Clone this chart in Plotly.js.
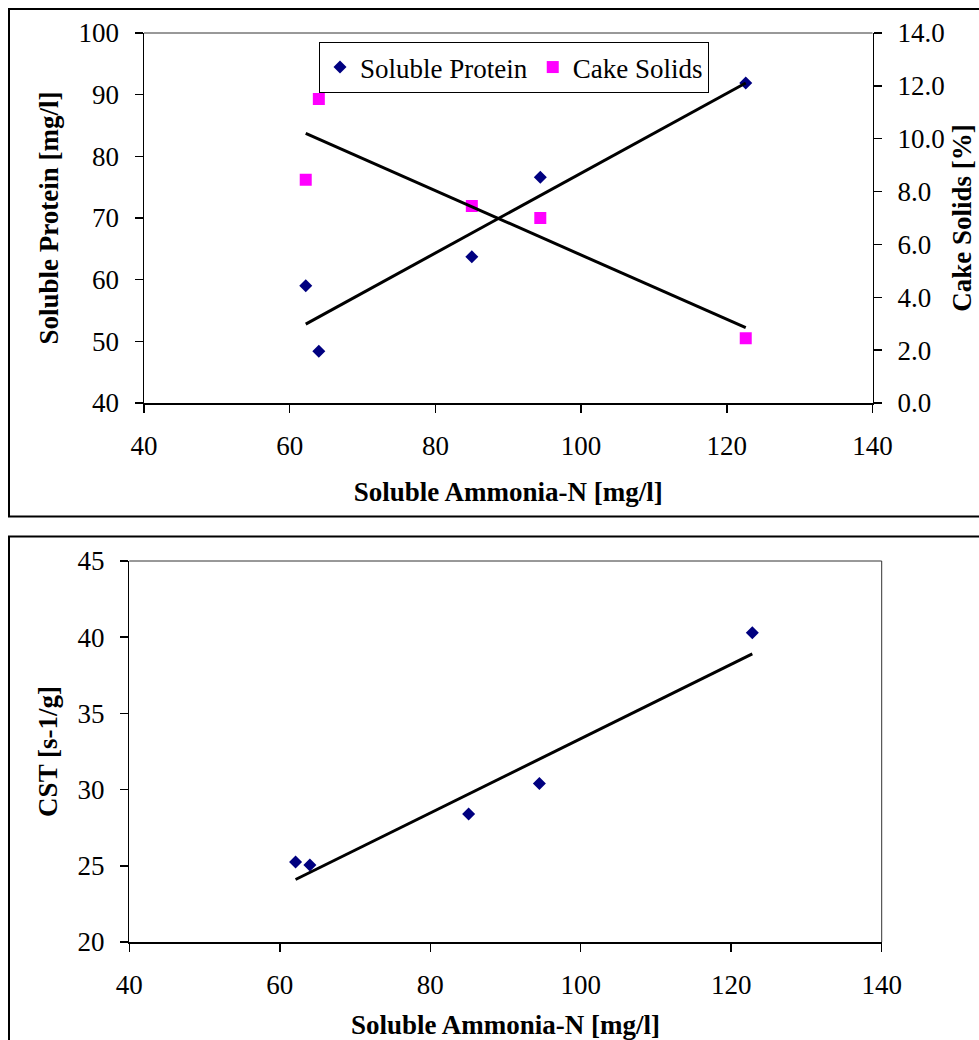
<!DOCTYPE html>
<html>
<head>
<meta charset="utf-8">
<script src="https://cdn.plot.ly/plotly-3.0.1.min.js"></script>
<style>
  html, body { margin: 0; padding: 0; background: #fff; }
  #chart { width: 979px; height: 1040px; }
</style>
</head>
<body>
<div id="chart"></div>
<script>
// ---- data ----
const ammoniaN       = [62.2, 64.0, 85.0, 94.4, 122.6];   // Soluble Ammonia-N [mg/l]
const solubleProtein = [59.0, 48.4, 63.7, 76.6, 91.9];    // Soluble Protein [mg/l]
const cakeSolids     = [8.45, 11.5, 7.45, 7.0, 2.45];     // Cake Solids [%]
const proteinTrendX  = [62.2, 122.6];
const proteinTrendY  = [52.8, 91.9];
const cakeTrendX     = [62.2, 122.6];
const cakeTrendY     = [10.2, 2.85];

const ammoniaN2      = [62.1, 64.0, 85.1, 94.5, 122.8];
const cst            = [25.25, 25.05, 28.4, 30.4, 40.3];  // CST [s-1/g]
const cstTrendX      = [62.1, 122.8];
const cstTrendY      = [24.1, 38.9];

const xTicks      = [40, 60, 80, 100, 120, 140];
const proteinTicks= [40, 50, 60, 70, 80, 90, 100];
const cakeTicks   = [0, 2, 4, 6, 8, 10, 12, 14];
const cstTicks    = [20, 25, 30, 35, 40, 45];

// ---- geometry helpers (pixels -> paper fractions) ----
const W = 979, H = 1040;
const px = v => v / W;
const py = v => 1 - v / H;

const FONT = 'Liberation Serif';
const tickFont = {family: FONT, size: 27, color: '#000'};
const titleFont = {family: FONT, size: 27, color: '#000', weight: 'bold'};
const NAVY = '#000080', MAGENTA = '#FF00FF';

const traces = [
  {x: ammoniaN, y: solubleProtein, type: 'scatter', mode: 'markers', name: 'Soluble Protein',
   xaxis: 'x', yaxis: 'y', marker: {symbol: 'diamond', size: 10, color: NAVY}},
  {x: ammoniaN, y: cakeSolids, type: 'scatter', mode: 'markers', name: 'Cake Solids',
   xaxis: 'x', yaxis: 'y2', marker: {symbol: 'square', size: 12, color: MAGENTA}},
  {x: proteinTrendX, y: proteinTrendY, type: 'scatter', mode: 'lines', showlegend: false,
   xaxis: 'x', yaxis: 'y', line: {color: '#000', width: 3}},
  {x: cakeTrendX, y: cakeTrendY, type: 'scatter', mode: 'lines', showlegend: false,
   xaxis: 'x', yaxis: 'y2', line: {color: '#000', width: 3}},
  {x: ammoniaN2, y: cst, type: 'scatter', mode: 'markers', name: 'CST', showlegend: false,
   xaxis: 'x2', yaxis: 'y5', marker: {symbol: 'diamond', size: 10, color: NAVY}},
  {x: cstTrendX, y: cstTrendY, type: 'scatter', mode: 'lines', showlegend: false,
   xaxis: 'x2', yaxis: 'y5', line: {color: '#000', width: 3}}
];

const base = {
  showgrid: false, zeroline: false, showline: true, linecolor: '#000', linewidth: 1.5,
  ticks: 'outside', ticklen: 8, tickwidth: 1.5, tickcolor: '#000',
  tickfont: tickFont, fixedrange: true, automargin: false
};
const twin = {
  showgrid: false, zeroline: false, showline: false,
  ticks: 'inside', ticklen: 8, tickwidth: 1.5, tickcolor: '#000',
  showticklabels: false, fixedrange: true, automargin: false
};

const layout = {
  width: W, height: H,
  margin: {l: 0, r: 0, t: 0, b: 0, pad: 0},
  paper_bgcolor: '#fff', plot_bgcolor: 'rgba(0,0,0,0)',
  font: {family: FONT, color: '#000'},
  showlegend: true,
  legend: {
    orientation: 'h', x: px(319), y: py(42), xanchor: 'left', yanchor: 'top',
    bordercolor: '#000', borderwidth: 1, bgcolor: '#fff',
    font: {family: FONT, size: 27, color: '#000'}, itemclick: false
  },
  // ---------- top chart ----------
  xaxis: Object.assign({}, base, {
    domain: [px(144), px(872.5)], anchor: 'y', range: [40, 140],
    tickvals: xTicks, ticklabelstandoff: 10,
    title: {text: 'Soluble Ammonia-N [mg/l]', font: titleFont, standoff: 22}
  }),
  xaxis3: Object.assign({}, twin, {overlaying: 'x', anchor: 'y', range: [40, 140], tickvals: xTicks}),
  yaxis: Object.assign({}, base, {
    domain: [py(403), py(33)], anchor: 'x', range: [40, 100],
    tickvals: proteinTicks, ticklabelstandoff: 10,
    title: {text: 'Soluble Protein [mg/l]', font: titleFont, standoff: 12}
  }),
  yaxis3: Object.assign({}, twin, {overlaying: 'y', anchor: 'x', range: [40, 100], tickvals: proteinTicks}),
  yaxis2: Object.assign({}, base, {
    overlaying: 'y', side: 'right', anchor: 'x', range: [0, 14],
    tickvals: cakeTicks, tickformat: '.1f', ticklabelstandoff: 10,
    title: {text: 'Cake Solids [%]', font: titleFont, standoff: 8}
  }),
  yaxis4: Object.assign({}, twin, {overlaying: 'y', side: 'right', anchor: 'x', range: [0, 14], tickvals: cakeTicks}),
  // ---------- bottom chart ----------
  xaxis2: Object.assign({}, base, {
    domain: [px(129.3), px(881.7)], anchor: 'y5', range: [40, 140],
    tickvals: xTicks, ticklabelstandoff: 10,
    title: {text: 'Soluble Ammonia-N [mg/l]', font: titleFont, standoff: 18}
  }),
  xaxis4: Object.assign({}, twin, {overlaying: 'x2', anchor: 'y5', range: [40, 140], tickvals: xTicks}),
  yaxis5: Object.assign({}, base, {
    domain: [py(942), py(561)], anchor: 'x2', range: [20, 45],
    tickvals: cstTicks, ticklabelstandoff: 10,
    title: {text: 'CST [s-1/g]', font: titleFont, standoff: 12}
  }),
  yaxis6: Object.assign({}, twin, {overlaying: 'y5', anchor: 'x2', range: [20, 45], tickvals: cstTicks}),
  shapes: [
    // outer frames
    {type: 'rect', xref: 'paper', yref: 'paper', x0: px(9), x1: 1.05, y0: py(516.5), y1: py(9),
     line: {color: '#000', width: 2}, fillcolor: 'rgba(0,0,0,0)', layer: 'below'},
    {type: 'rect', xref: 'paper', yref: 'paper', x0: px(9), x1: 1.05, y0: -0.05, y1: py(536.5),
     line: {color: '#000', width: 2}, fillcolor: 'rgba(0,0,0,0)', layer: 'below'},
    // plot-area borders (top edges, right edge of lower chart)
    {type: 'line', xref: 'paper', yref: 'paper', x0: px(144), x1: px(872.5), y0: py(33), y1: py(33),
     line: {color: '#333', width: 1}},
    {type: 'line', xref: 'paper', yref: 'paper', x0: px(129.3), x1: px(881.7), y0: py(561), y1: py(561),
     line: {color: '#333', width: 1}},
    {type: 'line', xref: 'paper', yref: 'paper', x0: px(881.7), x1: px(881.7), y0: py(561), y1: py(942),
     line: {color: '#333', width: 1}}
  ]
};

Plotly.newPlot('chart', traces, layout, {displayModeBar: false, staticPlot: true});
</script>
</body>
</html>
